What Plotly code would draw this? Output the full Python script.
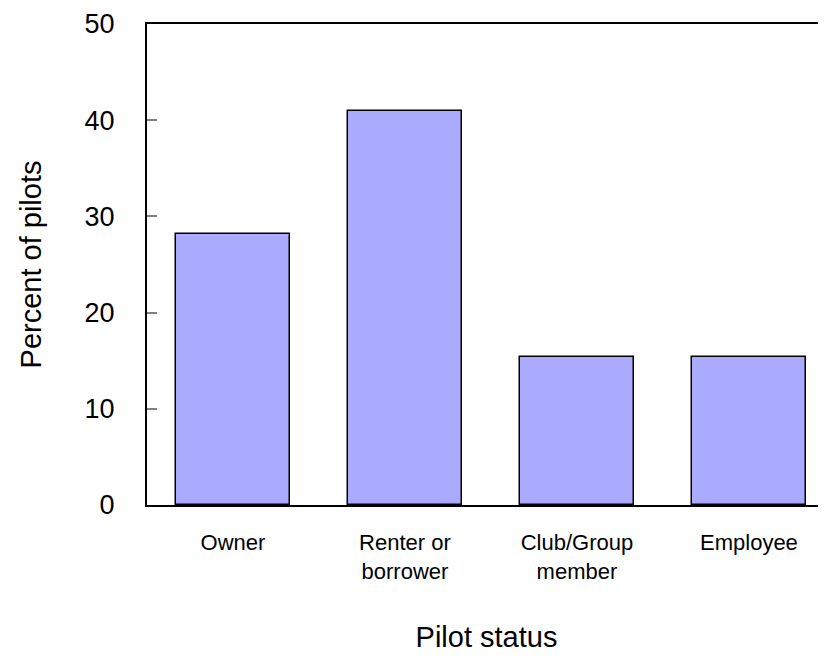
import plotly.graph_objects as go

categories = ["Owner", "Renter or<br>borrower", "Club/Group<br>member", "Employee"]
values = [28.2, 41.0, 15.4, 15.4]
y_ticks = [0, 10, 20, 30, 40, 50]

fig = go.Figure(go.Bar(
    x=list(range(len(categories))),
    y=values,
    width=0.663,
    marker=dict(color="#AAAAFF", line=dict(color="black", width=1.5)),
))

fig.update_layout(
    width=818, height=645,
    margin=dict(l=139, r=0, t=16, b=148),
    paper_bgcolor="white", plot_bgcolor="white",
    font=dict(family="Liberation Sans, Arial, sans-serif", color="black"),
    showlegend=False,
    bargap=0,
)
fig.update_xaxes(
    range=[-0.5, 3.448],
    tickmode="array", tickvals=list(range(len(categories))), ticktext=categories,
    tickfont=dict(size=22),
    ticks="", showgrid=False, zeroline=False,
    showline=True, linecolor="black", linewidth=2, mirror=True,
    ticklabelstandoff=17, automargin=False,
    title=dict(text="Pilot status", font=dict(size=29), standoff=48),
)
fig.update_yaxes(
    range=[0, 50],
    tickmode="array", tickvals=y_ticks,
    tickfont=dict(size=27),
    ticks="inside", ticklen=10, tickcolor="gray", tickwidth=2,
    showgrid=False, zeroline=False,
    showline=True, linecolor="black", linewidth=2,
    ticklabelstandoff=25, automargin=False, ticklabeloverflow="allow",
    title=dict(text="Percent of pilots", font=dict(size=29), standoff=34),
)

fig.write_html("out.html")
